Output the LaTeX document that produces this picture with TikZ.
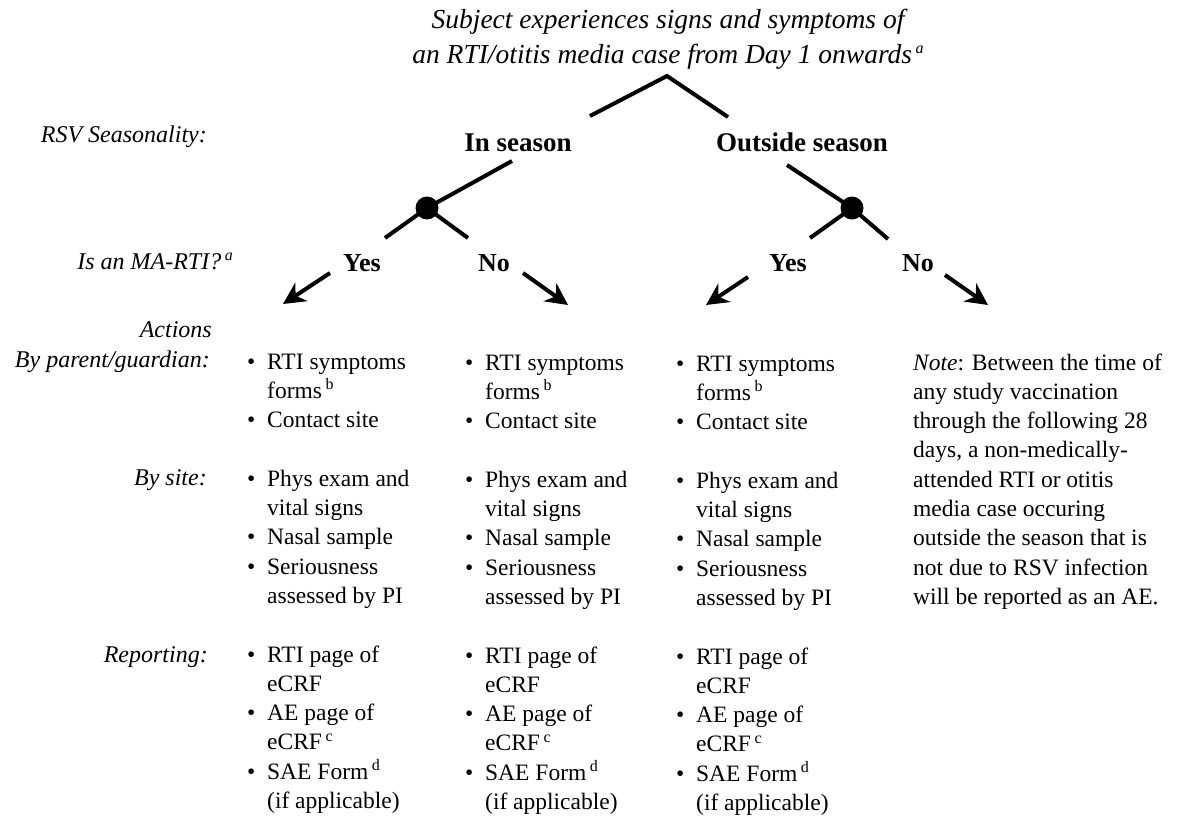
\documentclass[tikz,border=0pt]{standalone}
\usepackage{fontspec}
\setmainfont{Liberation Serif}
\usetikzlibrary{arrows.meta,shapes.geometric}
\newcommand{\bl}{\makebox[22pt][l]{\kern2pt\textbullet}}
\newcommand{\ind}{\hspace*{22pt}}
\newcommand{\sups}[1]{\kern3.5pt\raisebox{0.36em}{\fontsize{16}{16}\selectfont #1}}
\begin{document}
\begin{tikzpicture}[x=1pt,y=-1pt,
  tree/.style={line width=4pt},
  arr/.style={line width=4pt,-{Stealth[length=22pt,width=22pt,inset=7pt]}},
  dotnode/.style={fill=black,circle,minimum size=23pt,inner sep=0pt},
  hdr/.style={font=\fontsize{27.5}{35}\selectfont\itshape,inner sep=0pt,anchor=base},
  season/.style={font=\fontsize{27}{32}\selectfont\bfseries,inner sep=0pt,anchor=base},
  yn/.style={font=\fontsize{26}{30}\selectfont\bfseries,inner sep=0pt,anchor=base},
  lbl/.style={font=\fontsize{24}{29}\selectfont\itshape,inner sep=0pt,anchor=base east},
  col/.style={font=\fontsize{23.5}{29.3}\selectfont,inner sep=0pt,anchor=base west}
]
\useasboundingbox (0,0) rectangle (1184,822);
% header
\node[hdr] (h1) at (668,28) {Subject experiences signs and symptoms of};
\node[hdr] (h2) at (668,63) {an RTI/otitis media case from Day 1 onwards\sups{a}};
% seasons
\node[season] (ins) at (518,151) {In season};
\node[season] (outs) at (802,151) {Outside season};
% left labels
\node[lbl] (l1) at (207,142) {RSV Seasonality:};
\node[lbl] (l2) at (233,269) {Is an MA-RTI?\sups{a}};
\node[lbl] (l3) at (212,337) {Actions};
\node[lbl] (l4) at (210,367) {By parent/guardian:};
\node[lbl] (l5) at (207,485) {By site:};
\node[lbl] (l6) at (208,662) {Reporting:};
% yes/no
\node[yn] (y1) at (362,271) {Yes};
\node[yn] (n1) at (494,271) {No};
\node[yn] (y2) at (788,271) {Yes};
\node[yn] (n2) at (918,271) {No};
% dots
\node[dotnode] (d1) at (427,208) {};
\node[dotnode] (d2) at (852,208) {};
% coordinates
\coordinate (apex) at (667,76);
\coordinate (tl) at (590,116);
\coordinate (tr) at (728,117);
\coordinate (il) at (512,161);
\coordinate (ol) at (787,165);
\coordinate (d1l) at (385,238);
\coordinate (d1r) at (468,238);
\coordinate (d2l) at (810,238);
\coordinate (d2r) at (888,239);
\coordinate (a1s) at (330,273); \coordinate (a1e) at (283,304);
\coordinate (a2s) at (523,273); \coordinate (a2e) at (568,305);
\coordinate (a3s) at (748,277); \coordinate (a3e) at (706,305);
\coordinate (a4s) at (945,275); \coordinate (a4e) at (988,305);
% tree lines
\draw[tree] (tl) -- (apex) -- (tr);
\draw[tree] (il) -- (d1.center);
\draw[tree] (d1l) -- (d1.center) -- (d1r);
\draw[tree] (ol) -- (d2.center);
\draw[tree] (d2l) -- (d2.center) -- (d2r);
% arrows
\draw[arr] (a1s) -- (a1e);
\draw[arr] (a2s) -- (a2e);
\draw[arr] (a3s) -- (a3e);
\draw[arr] (a4s) -- (a4e);
% columns
\node[col] (c1) at (245,369) {\begin{tabular}[t]{@{}l@{}}
\bl RTI symptoms\\ \ind forms\sups{b}\\ \bl Contact site\\[29.3pt]
\bl Phys exam and\\ \ind vital signs\\ \bl Nasal sample\\ \bl Seriousness\\ \ind assessed by PI\\[29.3pt]
\bl RTI page of\\ \ind eCRF\\ \bl AE page of\\ \ind eCRF\sups{c}\\ \bl SAE Form\sups{d}\\ \ind (if applicable)
\end{tabular}};
\node[col] (c2) at (463,370) {\begin{tabular}[t]{@{}l@{}}
\bl RTI symptoms\\ \ind forms\sups{b}\\ \bl Contact site\\[29.3pt]
\bl Phys exam and\\ \ind vital signs\\ \bl Nasal sample\\ \bl Seriousness\\ \ind assessed by PI\\[29.3pt]
\bl RTI page of\\ \ind eCRF\\ \bl AE page of\\ \ind eCRF\sups{c}\\ \bl SAE Form\sups{d}\\ \ind (if applicable)
\end{tabular}};
\node[col] (c3) at (674,371) {\begin{tabular}[t]{@{}l@{}}
\bl RTI symptoms\\ \ind forms\sups{b}\\ \bl Contact site\\[29.3pt]
\bl Phys exam and\\ \ind vital signs\\ \bl Nasal sample\\ \bl Seriousness\\ \ind assessed by PI\\[29.3pt]
\bl RTI page of\\ \ind eCRF\\ \bl AE page of\\ \ind eCRF\sups{c}\\ \bl SAE Form\sups{d}\\ \ind (if applicable)
\end{tabular}};
\node[col] (note) at (913,370) {\begin{tabular}[t]{@{}l@{}}
\textit{Note}: Between the time of\\ any study vaccination\\ through the following 28\\ days, a non-medically-\\ attended RTI or otitis\\ media case occuring\\ outside the season that is\\ not due to RSV infection\\ will be reported as an AE.
\end{tabular}};
\end{tikzpicture}
\end{document}
